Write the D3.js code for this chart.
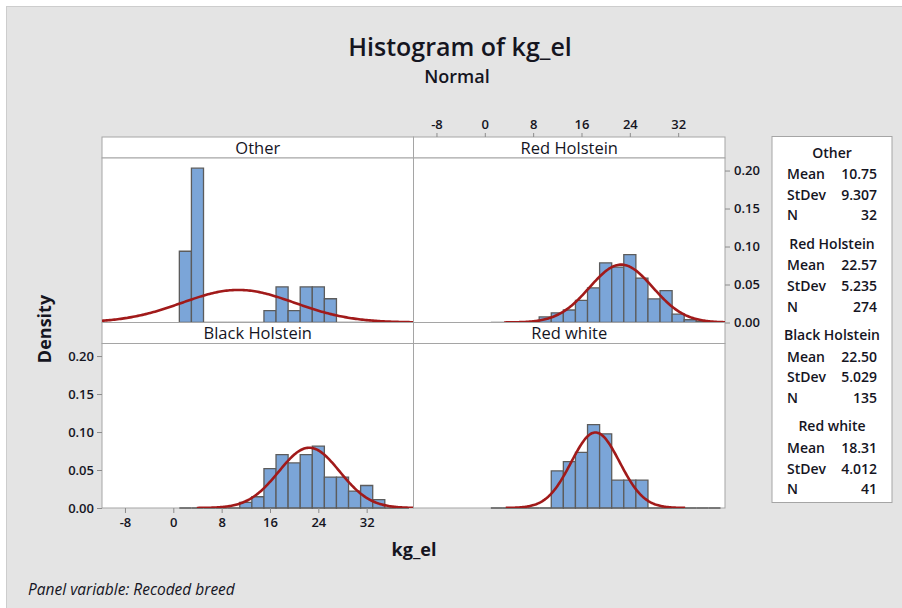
<!DOCTYPE html>
<html lang="en">
<head>
  <meta charset="UTF-8">
  <script src="https://d3js.org/d3.v7.min.js"></script>
  <style>
    body { margin: 0; background: #fff; }
    text { font-family: "Open Sans", "Noto Sans", sans-serif; fill: #15151f; }
  </style>
</head>
<body>
  <div id="chart"></div>
  <script>
    // panels and summary stats (from legend)
    const panelNames = ["Other", "Red Holstein", "Black Holstein", "Red white"];
    const means = [10.75, 22.57, 22.50, 18.31];
    const stdevs = [9.307, 5.235, 5.029, 4.012];
    const counts = [32, 274, 135, 41];

    // bins of width 2, left edges
    const binStarts = [1, 3, 5, 7, 9, 11, 13, 15, 17, 19, 21, 23, 25, 27, 29, 31, 33, 35, 37];
    const binWidth = 2;

    // counts per bin
    const otherBins = [6, 13, 0, 0, 0, 0, 0, 1, 3, 1, 3, 3, 2, 0, 0, 0, 0, 0, 0];
    const redHolsteinBins = [0, 0, 0, 0, 4, 7, 9, 16, 25, 43, 40, 49, 32, 17, 23, 6, 2, 1, 0];
    const blackHolsteinBins = [0, 0, 0, 0, 0, 2, 4, 14, 19, 16, 19, 22, 11, 11, 6, 8, 3, 0, 0];
    const redWhiteBins = [0, 0, 0, 0, 0, 4, 5, 6, 9, 8, 3, 3, 3, 0, 0, 0, 0, 0, 0];
    const binCounts = [otherBins, redHolsteinBins, blackHolsteinBins, redWhiteBins];

    const xTicks = [-8, 0, 8, 16, 24, 32];
    const yTicks = [0, 0.05, 0.10, 0.15, 0.20];

    const W = 902, H = 608;
    const colX = [102, 413.5], panelW = 311.5;
    const rowTop = [137, 322.5], headerH = 21, plotH = 164.5;

    const svg = d3.select("#chart").append("svg")
      .attr("width", W).attr("height", H);

    svg.append("rect").attr("x", 6.5).attr("y", 6.5).attr("width", W).attr("height", H)
      .attr("fill", "#e4e4e4").attr("stroke", "#cdcdcd");

    // titles
    svg.append("text").attr("x", 460).attr("y", 56).attr("text-anchor", "middle")
      .style("font-size", "25px").style("font-weight", 600).text("Histogram of kg_el");
    svg.append("text").attr("x", 457).attr("y", 83).attr("text-anchor", "middle")
      .style("font-size", "18px").style("font-weight", 600).text("Normal");

    const x = d3.scaleLinear().domain([-11.8, 39.75]).range([0, panelW]);
    const y = d3.scaleLinear().domain([0, 0.2165]).range([plotH, 0]);

    const normal = (v, m, s) => Math.exp(-0.5 * ((v - m) / s) ** 2) / (s * Math.sqrt(2 * Math.PI));

    panelNames.forEach((name, p) => {
      const col = p % 2, row = Math.floor(p / 2);
      const g = svg.append("g").attr("transform", `translate(${colX[col]},${rowTop[row]})`);

      // header strip
      g.append("rect").attr("width", panelW).attr("height", headerH)
        .attr("fill", "#fff").attr("stroke", "#a5a5a5");
      g.append("text").attr("x", panelW / 2).attr("y", headerH - 4.5)
        .attr("text-anchor", "middle").style("font-size", "16.5px").text(name);

      const pg = g.append("g").attr("transform", `translate(0,${headerH})`);
      pg.append("rect").attr("width", panelW).attr("height", plotH)
        .attr("fill", "#fff").attr("stroke", "#a5a5a5");

      const clipId = "clip" + p;
      pg.append("clipPath").attr("id", clipId).append("rect")
        .attr("width", panelW).attr("height", plotH);

      const n = counts[p];
      pg.selectAll("path.bar").data(binCounts[p]).join("path")
        .attr("class", "bar")
        .attr("d", (c, i) => {
          const x0 = x(binStarts[i]), x1 = x(binStarts[i] + binWidth);
          const yt = y(c / (n * binWidth)), yb = y(0);
          return `M${x0},${yb}L${x0},${yt}L${x1},${yt}L${x1},${yb}Z`;
        })
        .attr("fill", "#7ba5d8").attr("stroke", "#5c5c5c").attr("stroke-width", 1.3);

      // fitted normal curve
      const m = means[p], s = stdevs[p];
      const lo = Math.max(m - 3.7 * s, -11.8), hi = Math.min(m + 3.7 * s, 39.75);
      const pts = d3.range(0, 201).map(k => lo + (hi - lo) * k / 200);
      const line = d3.line().x(v => x(v)).y(v => y(normal(v, m, s)));
      pg.append("path").datum(pts).attr("d", line)
        .attr("clip-path", `url(#${clipId})`)
        .attr("fill", "none").attr("stroke", "#a11a1a").attr("stroke-width", 2.6);

      // axes
      const tickColor = "#8c8c8c";
      const xFmt = d => String(d);
      const styleAxis = a => {
        a.select(".domain").remove();
        a.selectAll("line").attr("stroke", tickColor);
        a.selectAll("text").style("font-size", "13px").style("font-weight", 600)
          .style("font-family", null).attr("fill", null);
      };
      if (p === 1) {
        styleAxis(g.append("g")
          .call(d3.axisTop(x).tickValues(xTicks).tickSize(4).tickPadding(4).tickFormat(xFmt)));
        styleAxis(pg.append("g").attr("transform", `translate(${panelW},0)`)
          .call(d3.axisRight(y).tickValues(yTicks).tickSize(5).tickPadding(4).tickFormat(d3.format(".2f"))));
      }
      if (p === 2) {
        styleAxis(pg.append("g").attr("transform", `translate(0,${plotH})`)
          .call(d3.axisBottom(x).tickValues(xTicks).tickSize(5).tickPadding(5).tickFormat(xFmt)));
        styleAxis(pg.append("g")
          .call(d3.axisLeft(y).tickValues(yTicks).tickSize(5).tickPadding(3).tickFormat(d3.format(".2f"))));
      }
    });

    // axis titles
    svg.append("text").attr("transform", "translate(51,329) rotate(-90)")
      .attr("text-anchor", "middle").style("font-size", "18px").style("font-weight", 700).text("Density");
    svg.append("text").attr("x", 414).attr("y", 556)
      .attr("text-anchor", "middle").style("font-size", "18px").style("font-weight", 700).text("kg_el");
    svg.append("text").attr("x", 28).attr("y", 595)
      .style("font-size", "15.5px").style("font-style", "italic").text("Panel variable: Recoded breed");

    // legend box
    const lg = svg.append("g");
    lg.append("rect").attr("x", 772).attr("y", 136.5).attr("width", 120).attr("height", 366)
      .attr("fill", "#fff").attr("stroke", "#a5a5a5");
    const fmtMean = d3.format(".2f");
    const fmtSd = d3.format(".3f");
    panelNames.forEach((name, p) => {
      const top = 157.5 + p * 91.3;
      lg.append("text").attr("x", 832).attr("y", top).attr("text-anchor", "middle")
        .style("font-size", "14px").style("font-weight", 600).text(name);
      const rows = [["Mean", fmtMean(means[p])], ["StDev", fmtSd(stdevs[p])], ["N", counts[p]]];
      rows.forEach((r, k) => {
        const yy = top + 21.5 + k * 20.6;
        lg.append("text").attr("x", 787).attr("y", yy).style("font-size", "14px")
          .style("font-weight", 600).text(r[0]);
        lg.append("text").attr("x", 877).attr("y", yy).attr("text-anchor", "end")
          .style("font-size", "14px").style("font-weight", 600).text(r[1]);
      });
    });
  </script>
</body>
</html>
